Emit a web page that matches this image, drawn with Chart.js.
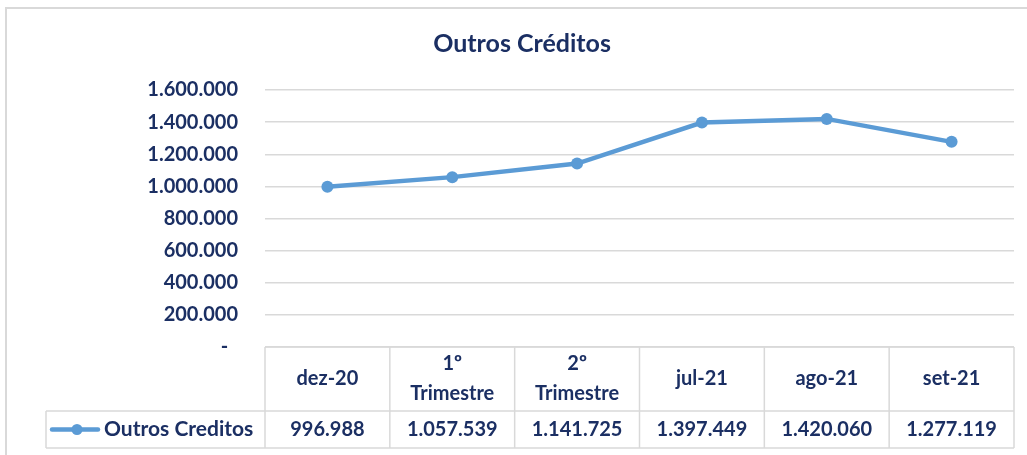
<!DOCTYPE html>
<html>
<head>
<meta charset="utf-8">
<script src="https://cdn.jsdelivr.net/npm/chart.js@4/dist/chart.umd.min.js"></script>
<style>
  html, body { margin: 0; padding: 0; background: #fff; }
  #wrap { width: 1027px; height: 455px; position: relative; }
</style>
</head>
<body>
<div id="wrap"><canvas id="chart" width="1027" height="455"></canvas></div>
<script>
// dados do gráfico
const titleText = 'Outros Créditos';
const seriesName = 'Outros Creditos';
const categories = [['dez-20'], ['1º', 'Trimestre'], ['2º', 'Trimestre'], ['jul-21'], ['ago-21'], ['set-21']];
const values = [996988, 1057539, 1141725, 1397449, 1420060, 1277119];
const yTicks = [0, 200000, 400000, 600000, 800000, 1000000, 1200000, 1400000, 1600000];

const textColor = '#1b2f63';
const lineColor = '#5b9bd5';
const gridColor = '#d9d9d9';
const fontFamily = 'Lato, "Open Sans", sans-serif';

// formato 1.234.567 (pt-BR), zero vira "-"
function fmt(v) {
    if (v === 0) return '-  ';
    return String(Math.round(v)).replace(/\B(?=(\d{3})+(?!\d))/g, '.');
}

// desenha a borda do gráfico e a tabela de dados abaixo do eixo
const dataTablePlugin = {
    id: 'dataTable',
    beforeDraw(chart) {
        const ctx = chart.ctx;
        ctx.save();
        ctx.strokeStyle = gridColor;
        ctx.lineWidth = 2;
        ctx.beginPath();
        ctx.moveTo(6, chart.height);
        ctx.lineTo(6, 8);
        ctx.lineTo(chart.width, 8);
        ctx.stroke();
        ctx.restore();
    },
    afterDraw(chart) {
        const ctx = chart.ctx;
        const x = chart.scales.x;
        const area = chart.chartArea;
        const n = categories.length;
        const headerTop = area.bottom;
        const rowTop = headerTop + 64;
        const rowBottom = rowTop + 37;
        const legendLeft = 46;

        // limites das colunas
        const edges = [area.left];
        for (let i = 1; i < n; i++) {
            edges.push((x.getPixelForValue(i - 1) + x.getPixelForValue(i)) / 2);
        }
        edges.push(area.right);

        ctx.save();
        ctx.strokeStyle = gridColor;
        ctx.lineWidth = 1.5;
        ctx.beginPath();
        ctx.moveTo(area.left, headerTop); ctx.lineTo(area.right, headerTop);
        ctx.moveTo(legendLeft, rowTop); ctx.lineTo(area.right, rowTop);
        ctx.moveTo(legendLeft, rowBottom); ctx.lineTo(area.right, rowBottom);
        ctx.moveTo(legendLeft, rowTop); ctx.lineTo(legendLeft, rowBottom);
        edges.forEach(ex => {
            ctx.moveTo(ex, headerTop); ctx.lineTo(ex, rowBottom);
        });
        ctx.stroke();

        // cabeçalho (categorias) e valores
        ctx.fillStyle = textColor;
        ctx.font = 'bold 20px ' + fontFamily;
        ctx.textAlign = 'center';
        ctx.textBaseline = 'middle';
        categories.forEach((lines, i) => {
            const cx = x.getPixelForValue(i);
            const mid = (headerTop + rowTop) / 2;
            if (lines.length === 1) {
                ctx.fillText(lines[0], cx, mid);
            } else {
                ctx.fillText(lines[0], cx, mid - 15);
                ctx.fillText(lines[1], cx, mid + 15);
            }
            ctx.fillText(fmt(values[i]), cx, (rowTop + rowBottom) / 2);
        });

        // chave da legenda
        const ky = (rowTop + rowBottom) / 2;
        ctx.strokeStyle = lineColor;
        ctx.lineWidth = 4.5;
        ctx.lineCap = 'round';
        ctx.beginPath();
        ctx.moveTo(52, ky); ctx.lineTo(98, ky);
        ctx.stroke();
        ctx.fillStyle = lineColor;
        ctx.beginPath();
        ctx.arc(77, ky, 5.5, 0, Math.PI * 2);
        ctx.fill();
        ctx.fillStyle = textColor;
        ctx.textAlign = 'left';
        ctx.font = 'bold 21px ' + fontFamily;
        ctx.fillText(seriesName, 104, ky);
        ctx.restore();
    }
};

const chart = new Chart(document.getElementById('chart'), {
    type: 'line',
    data: {
        labels: categories.map(c => c.join(' ')),
        datasets: [{
            label: seriesName,
            data: values,
            borderColor: lineColor,
            backgroundColor: lineColor,
            borderWidth: 4.5,
            pointRadius: 6,
            pointHoverRadius: 6,
            pointBackgroundColor: lineColor,
            pointBorderWidth: 0,
            tension: 0
        }]
    },
    options: {
        responsive: false,
        animation: false,
        layout: { padding: { left: 30, right: 13, top: 0, bottom: 108 } },
        plugins: {
            legend: { display: false },
            tooltip: { enabled: false },
            title: {
                display: true,
                text: titleText,
                color: textColor,
                font: { family: fontFamily, size: 25, weight: 'bold' },
                padding: { top: 29, bottom: 31 }
            }
        },
        scales: {
            x: {
                type: 'category',
                offset: true,
                display: false
            },
            y: {
                min: 0,
                max: 1600000,
                afterBuildTicks(scale) {
                    scale.ticks = yTicks.map(v => ({ value: v }));
                },
                afterFit(scale) {
                    scale.width = 235;
                },
                border: { display: false },
                grid: { color: gridColor, lineWidth: 1.5, drawTicks: false },
                ticks: {
                    padding: 27,
                    color: textColor,
                    font: { family: fontFamily, size: 20, weight: 'bold' },
                    callback: v => fmt(v)
                }
            }
        }
    },
    plugins: [dataTablePlugin]
});
</script>
</body>
</html>
